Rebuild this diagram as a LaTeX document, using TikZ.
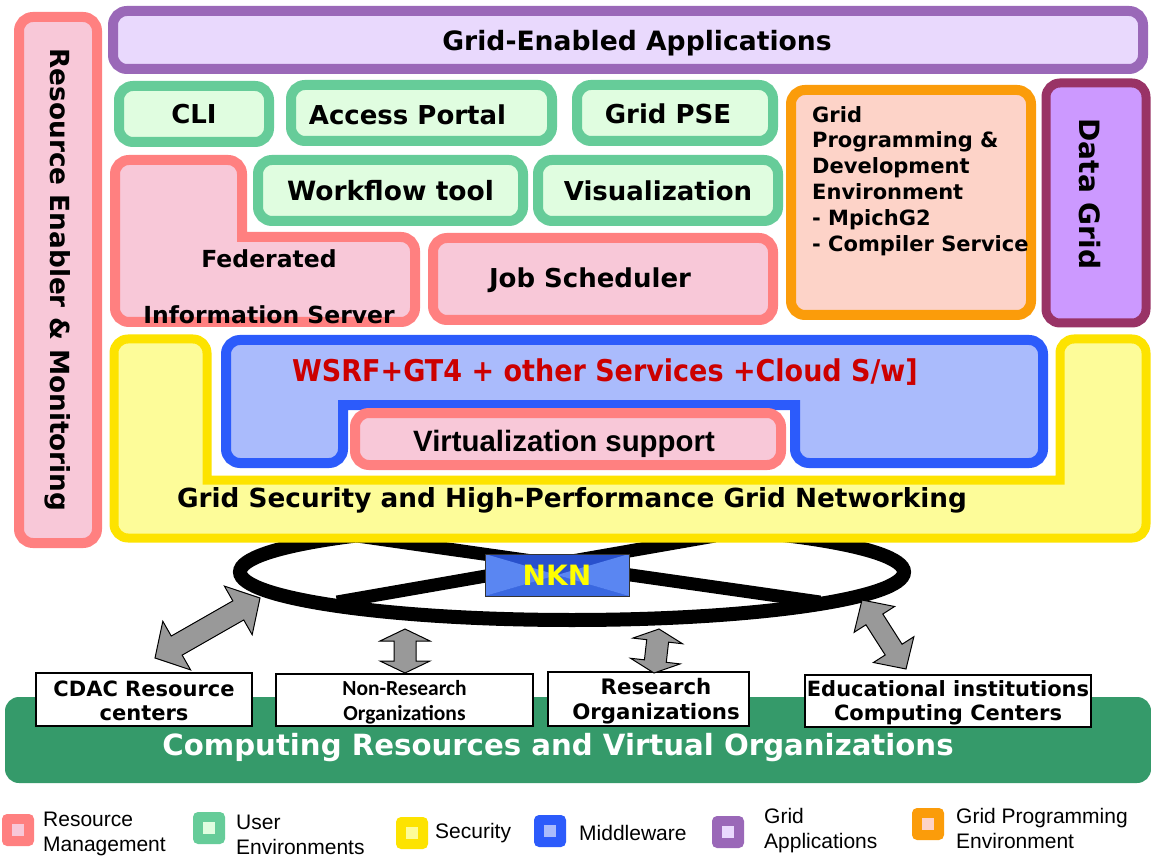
\documentclass[tikz,border=0pt]{standalone}
\usepackage{fontspec}
\setmainfont{DejaVu Sans}
\newfontfamily\condfont[FakeStretch=0.9]{DejaVu Sans}
\newfontfamily\arialfont{Liberation Sans}
\newfontfamily\calfont{Carlito}
\usetikzlibrary{calc,shapes.geometric}

% layer colours: stroke / fill
\definecolor{rmLine}{HTML}{FF8080}
\definecolor{rmFill}{HTML}{F8C8D8}
\definecolor{ueLine}{HTML}{66CC99}
\definecolor{ueFill}{HTML}{E0FDE0}
\definecolor{gaLine}{HTML}{9A68B8}
\definecolor{gaFill}{HTML}{E9D9FD}
\definecolor{gpLine}{HTML}{FB9C0A}
\definecolor{gpFill}{HTML}{FDD3C8}
\definecolor{dgLine}{HTML}{993366}
\definecolor{dgFill}{HTML}{CC99FF}
\definecolor{secLine}{HTML}{FDE300}
\definecolor{secFill}{HTML}{FDFC99}
\definecolor{mwLine}{HTML}{2C5BFB}
\definecolor{mwFill}{HTML}{AABBFC}
\definecolor{voGreen}{HTML}{359A6A}
\definecolor{wsrfRed}{HTML}{CC0000}
\definecolor{arrowGrey}{HTML}{999999}
\definecolor{nknDark}{HTML}{2850CC}
\definecolor{nknLight}{HTML}{5A86F2}
\definecolor{nknMid}{HTML}{3A68E0}
\definecolor{nknText}{HTML}{FFFF00}

\newcommand\fsz[2]{\fontsize{#1}{#2}\selectfont}

% fat grey double-headed arrow between two named coordinates
% #1 start, #2 end, #3 head length, #4 head half-width, #5 shaft half-width
\newcommand\blockarrow[5]{%
  \coordinate (#1-#2-p) at ($(#1)!#3!(#2)$);
  \coordinate (#1-#2-q) at ($(#2)!#3!(#1)$);
  \draw[blockarrow] (#1)
    -- ($(#1-#2-p)!#4!90:(#2)$) -- ($(#1-#2-p)!#5!90:(#2)$)
    -- ($(#1-#2-q)!#5!-90:(#1)$) -- ($(#1-#2-q)!#4!-90:(#1)$)
    -- (#2)
    -- ($(#1-#2-q)!#4!90:(#1)$) -- ($(#1-#2-q)!#5!90:(#1)$)
    -- ($(#1-#2-p)!#5!-90:(#2)$) -- ($(#1-#2-p)!#4!-90:(#2)$)
    -- cycle;
}

\tikzset{
  every node/.style={inner sep=0pt},
  layer/.style={line width=10pt, rounded corners=14pt, rectangle},
  rmbox/.style={layer, draw=rmLine, fill=rmFill},
  uebox/.style={layer, draw=ueLine, fill=ueFill},
  gabox/.style={layer, draw=gaLine, fill=gaFill},
  gpbox/.style={layer, draw=gpLine, fill=gpFill},
  dgbox/.style={layer, line width=9pt, draw=dgLine, fill=dgFill},
  secshape/.style={line width=9pt, draw=secLine, fill=secFill},
  mwshape/.style={line width=10pt, draw=mwLine, fill=mwFill},
  boxfont/.style={font=\bfseries\fsz{26}{31}},
  orgbox/.style={rectangle, draw=black, line width=1.6pt, fill=white, align=center},
  orgfont/.style={font=\bfseries\fsz{21}{24.5}, align=center},
  blockarrow/.style={draw=black, line width=1pt, fill=arrowGrey, line join=miter},
  ringline/.style={line width=13pt, draw=black},
  legsq/.style 2 args={rectangle, rounded corners=5pt, minimum size=32pt, fill=#1,
    path picture={\fill[#2, sharp corners] ([shift={(-6pt,-6pt)}]path picture bounding box.center)
      rectangle ([shift={(6pt,6pt)}]path picture bounding box.center);}},
  legtxt/.style={font=\arialfont\fsz{21}{25}, anchor=west, align=left},
}

\begin{document}
\begin{tikzpicture}[x=1pt,y=-1pt]
\fill[white] (0,0) rectangle (1151,858);
\useasboundingbox (0,0) rectangle (1151,858);

% ---- computing resources band and organisations
\node[rectangle, rounded corners=14pt, fill=voGreen, minimum width=1146pt, minimum height=86pt] (vo) at (578,740) {};
\node[font=\bfseries\fsz{29.2}{34}, text=white] (votitle) at (558,748) {Computing Resources and Virtual Organizations};

\node[orgbox, minimum width=216pt, minimum height=53pt] (cdac) at (144,699.5) {};
\node[orgfont] (cdacTxt) at (144,701) {CDAC Resource\\centers};
\node[orgbox, minimum width=257pt, minimum height=52pt] (nonres) at (404.5,700) {};
\node[font=\calfont\bfseries\fsz{21.5}{25}, align=center] (nonresTxt) at (404.5,702.5) {Non-Research\\Organizations};
\node[orgbox, minimum width=201pt, minimum height=54pt] (res) at (648.5,699) {};
\node[orgfont, font=\bfseries\fsz{21.3}{24.5}] (resTxt) at (656,701) {Research\\Organizations};
\node[orgbox, minimum width=286pt, minimum height=52pt] (edu) at (948,701) {};
\node[orgfont] (eduTxt) at (948,703) {Educational institutions\\Computing Centers};

% ---- NKN backbone ring
\node[ellipse, draw=black, line width=14pt, minimum width=664pt, minimum height=96pt] (ring) at (572,572) {};
\draw[ringline] (337,602) -- (715,536);
\draw[ringline] (357,536) -- (820,602);

% ---- security layer (U shape)
\draw[secshape] (114,420) [rounded corners=14pt] -- (114,339) -- (207,339)
  [sharp corners] -- (207,480) -- (1060,480)
  [rounded corners=14pt] -- (1060,339) -- (1146,339) -- (1146,538) -- (114,538) -- cycle;
\node[font=\bfseries\fsz{26.3}{32}] (sectxt) at (572,500) {Grid Security and High-Performance Grid Networking};

% ---- middleware layer
\draw[mwshape] (226,400) [rounded corners=14pt] -- (226,340) -- (1043,340) -- (1043,463) -- (795,463)
  [sharp corners] -- (795,405) -- (343,405)
  [rounded corners=14pt] -- (343,463) -- (226,463) -- cycle;
\node[font=\condfont\bfseries\fsz{30}{34}, text=wsrfRed] (wsrf) at (605,372) {WSRF+GT4 + other Services +Cloud S/w]};
\node[rmbox, minimum width=426pt, minimum height=52pt] (virt) at (568,439) {};
\node[font=\arialfont\bfseries\fsz{29.4}{32}] (virtTxt) at (564,444) {Virtualization support};

% ---- NKN label
\node[rectangle, draw=black!80, line width=1pt, fill=nknDark, minimum width=144pt, minimum height=42pt,
  font=\bfseries\fsz{28}{30}, text=nknText,
  path picture={
    \fill[nknMid] (path picture bounding box.south west) -- (path picture bounding box.center) -- (path picture bounding box.south east) -- cycle;
    \fill[nknLight] (path picture bounding box.north west) -- (path picture bounding box.center) -- (path picture bounding box.south west) -- cycle;
    \fill[nknLight] (path picture bounding box.north east) -- (path picture bounding box.center) -- (path picture bounding box.south east) -- cycle;
  }] (nkn) at (557,575) {NKN};

% ---- links between the ring and the organisations
\coordinate (cdacTop) at (155,658);
\coordinate (ringW) at (260,598);
\coordinate (nonresTop) at (405,673);
\coordinate (ringS1) at (405,629);
\coordinate (resTop) at (654,673);
\coordinate (ringS2) at (659,629);
\coordinate (eduTop) at (906,669);
\coordinate (ringE) at (862,600);
\blockarrow{cdacTop}{ringW}{25pt}{28pt}{11pt}
\blockarrow{nonresTop}{ringS1}{12pt}{25pt}{11pt}
\blockarrow{resTop}{ringS2}{12pt}{25pt}{11pt}
\blockarrow{eduTop}{ringE}{23pt}{24pt}{10pt}

% ---- upper layers
\node[rmbox, rotate=-90, minimum width=526pt, minimum height=78pt, font=\bfseries\fsz{26.3}{31}] (rem) at (58,280) {Resource Enabler \& Monitoring};
\node[gabox, minimum width=1030pt, minimum height=58pt] (gea) at (628,40) {};
\node[font=\bfseries\fsz{26.6}{31}] (geaTxt) at (637,43) {Grid-Enabled Applications};

\node[uebox, boxfont, minimum width=150pt, minimum height=56pt] (cli) at (194,114) {CLI};
\node[uebox, minimum width=261pt, minimum height=56pt] (portal) at (421.5,113) {};
\node[boxfont] (portalTxt) at (407.5,115) {Access Portal};
\node[uebox, minimum width=196pt, minimum height=56pt] (pse) at (675,113) {};
\node[boxfont] (pseTxt) at (668,114) {Grid PSE};
\node[uebox, boxfont, minimum width=265pt, minimum height=61pt, font=\bfseries\fsz{26.5}{31}] (wf) at (390.5,190.5) {Workflow tool};
\node[uebox, boxfont, minimum width=240pt, minimum height=61pt] (vis) at (658,190.5) {Visualization};

\draw[rmbox] (115,250) [rounded corners=14pt] -- (115,160) -- (242,160)
  [sharp corners] -- (242,237)
  [rounded corners=14pt] -- (415,237) -- (415,322) -- (115,322) -- cycle;
\node[font=\bfseries\fsz{23.5}{28}] (fed1) at (269,259) {Federated};
\node[font=\bfseries\fsz{23.5}{28}] (fed2) at (269,315) {Information Server};
\node[rmbox, minimum width=340pt, minimum height=82pt] (job) at (603,279) {};
\node[boxfont] (jobTxt) at (590,280) {Job Scheduler};

\node[gpbox, minimum width=240pt, minimum height=225pt] (gpe) at (911,202.5) {};
\node[font=\bfseries\fsz{21}{25.8}, align=left, anchor=north west] (gpetxt) at (812,106)
  {Grid\\Programming \&\\Development\\Environment\\- MpichG2\\- Compiler Service};
\node[dgbox, minimum width=100pt, minimum height=240pt] (dg) at (1096,203) {};
\node[rotate=-90, font=\bfseries\fsz{28}{32}] (dgTxt) at (1090,194) {Data Grid};

% ---- legend
\node[legsq={rmLine}{rmFill}] (lrm) at (18,830) {};
\node[legtxt] (lrmt) at (43,834) {Resource\\Management};
\node[legsq={ueLine}{ueFill}] (lue) at (209,828) {};
\node[legtxt] (luet) at (236,835) {User\\Environments};
\node[legsq={secLine}{secFill}] (lsec) at (412,833) {};
\node[legtxt] (lsect) at (435,833) {Security};
\node[legsq={mwLine}{mwFill}] (lmw) at (550,831) {};
\node[legtxt] (lmwt) at (579,833) {Middleware};
\node[legsq={gaLine}{gaFill}] (lga) at (728,832) {};
\node[legtxt] (lgat) at (764,831) {Grid\\Applications};
\node[legsq={gpLine}{gpFill}] (lgp) at (928,824) {};
\node[legtxt] (lgpt) at (956,828) {Grid Programming\\Environment};
\end{tikzpicture}
\end{document}
